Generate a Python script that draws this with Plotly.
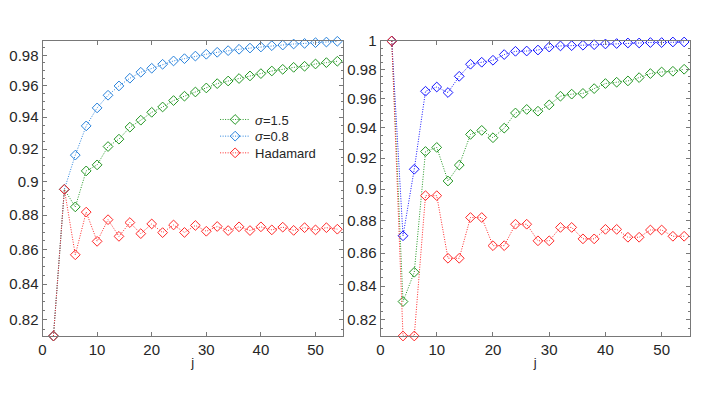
import numpy as np
import plotly.graph_objects as go

j = list(range(2, 56, 2))

# left panel
left_sigma15 = [0.8112, 0.8954, 0.8849, 0.9066, 0.9103, 0.9216, 0.9262, 0.9337, 0.9381,
                0.9431, 0.9465, 0.9506, 0.9534, 0.9561, 0.9587, 0.9615, 0.9632, 0.9648,
                0.9665, 0.9680, 0.9697, 0.9708, 0.9721, 0.9728, 0.9743, 0.9752, 0.9761]
left_sigma08 = [0.8112, 0.8954, 0.9163, 0.9345, 0.9459, 0.9540, 0.9600, 0.9650, 0.9689,
                0.9715, 0.9741, 0.9763, 0.9778, 0.9795, 0.9807, 0.9820, 0.9831, 0.9840,
                0.9848, 0.9855, 0.9864, 0.9868, 0.9875, 0.9879, 0.9884, 0.9888, 0.9893]
left_hadamard = [0.8112, 0.8954, 0.8568, 0.8818, 0.8646, 0.8773, 0.8675, 0.8756, 0.8691,
                 0.8748, 0.8697, 0.8742, 0.8698, 0.8739, 0.8705, 0.8733, 0.8709, 0.8731,
                 0.8709, 0.8731, 0.8713, 0.8729, 0.8710, 0.8726, 0.8713, 0.8726, 0.8717]

# right panel
right_sigma15 = [1.0, 0.8308, 0.8483, 0.9244, 0.9271, 0.9052, 0.9155, 0.9357, 0.9384,
                 0.9335, 0.9399, 0.9501, 0.9525, 0.9513, 0.9556, 0.9615, 0.9629, 0.9634,
                 0.9667, 0.9702, 0.9711, 0.9720, 0.9743, 0.9771, 0.9782, 0.9787, 0.9801]
right_sigma08 = [1.0, 0.8706, 0.9128, 0.9649, 0.9678, 0.9640, 0.9752, 0.9836, 0.9850,
                 0.9864, 0.9904, 0.9927, 0.9929, 0.9936, 0.9957, 0.9965, 0.9967, 0.9970,
                 0.9974, 0.9979, 0.9982, 0.9986, 0.9986, 0.9989, 0.9989, 0.9993, 0.9993]
right_hadamard = [1.0, 0.8107, 0.8107, 0.8958, 0.8958, 0.8568, 0.8568, 0.8820, 0.8820,
                  0.8645, 0.8645, 0.8778, 0.8778, 0.8675, 0.8675, 0.8758, 0.8758, 0.8687,
                  0.8687, 0.8746, 0.8746, 0.8697, 0.8697, 0.8742, 0.8742, 0.8703, 0.8703]

y_ticks = [0.82, 0.84, 0.86, 0.88, 0.9, 0.92, 0.94, 0.96, 0.98, 1.0]
y_ticktext = ["0.82", "0.84", "0.86", "0.88", "0.9", "0.92", "0.94", "0.96", "0.98", "1"]
y_minor = [round(0.81 + 0.005 * k, 3) for k in range(39)]

GREEN = "rgb(34,150,34)"
LBLUE = "rgb(40,130,220)"
BLUE = "rgb(20,20,255)"
RED = "rgb(255,40,40)"
AXIS = "rgb(120,120,120)"

fig = go.Figure()


def add_series(y, color, name, xa, ya, legend=None):
    fig.add_trace(go.Scatter(
        x=j, y=y, mode="lines+markers", name=name,
        line=dict(color=color, width=1, dash="1px,1.5px"),
        marker=dict(symbol="diamond-open", size=7.5, color=color, line=dict(width=1, color=color)),
        xaxis=xa, yaxis=ya, showlegend=legend is not None, legend=legend or "legend",
        cliponaxis=False
    ))


add_series(left_sigma15, GREEN, "<i>σ</i>=1.5", "x", "y", "legend")
add_series(left_sigma08, LBLUE, "<i>σ</i>=0.8", "x", "y", "legend2")
add_series(left_hadamard, RED, "Hadamard", "x", "y", "legend3")

add_series(right_sigma15, GREEN, "σ=1.5", "x2", "y2")
add_series(right_sigma08, BLUE, "σ=0.8", "x2", "y2")
add_series(right_hadamard, RED, "Hadamard", "x2", "y2")

xax = dict(range=[0, 55], tickvals=[0, 10, 20, 30, 40, 50], ticks="inside", ticklen=4,
           tickcolor=AXIS, showline=True, linecolor=AXIS, linewidth=1, mirror="ticks",
           showgrid=False, zeroline=False,
           title=dict(text="j", standoff=0, font=dict(size=13)),
           tickfont=dict(size=15, color="rgb(38,38,38)"))
yax = dict(type="log", tickvals=y_ticks, ticktext=y_ticktext, ticks="inside", ticklen=4,
           tickcolor=AXIS, showline=True, linecolor=AXIS, linewidth=1, mirror="ticks",
           showgrid=False, zeroline=False,
           minor=dict(tickmode="array", tickvals=y_minor, ticks="inside", ticklen=2, tickcolor=AXIS),
           tickfont=dict(size=15, color="rgb(38,38,38)"))

leg = dict(x=0.2961, xanchor="left", yanchor="middle", bgcolor="rgba(0,0,0,0)",
           font=dict(size=13), itemwidth=30)

fig.update_layout(
    width=690, height=378,
    margin=dict(l=0, r=0, t=32.7, b=50),
    plot_bgcolor="white", paper_bgcolor="white",
    font=dict(family="Liberation Sans, Arial, sans-serif", size=14, color="rgb(38,38,38)"),
    xaxis=dict(xax, domain=[0.0445, 0.4822], anchor="y"),
    yaxis=dict(yax, range=[np.log10(0.8112), np.log10(0.9895)], anchor="x"),
    xaxis2=dict(xax, domain=[0.5372, 0.9880], anchor="y2"),
    yaxis2=dict(yax, range=[np.log10(0.8107), 0.0], anchor="x2"),
    legend=dict(leg, y=0.7338),
    legend2=dict(leg, y=0.6773),
    legend3=dict(leg, y=0.6207),
)

fig.write_html("out.html")
